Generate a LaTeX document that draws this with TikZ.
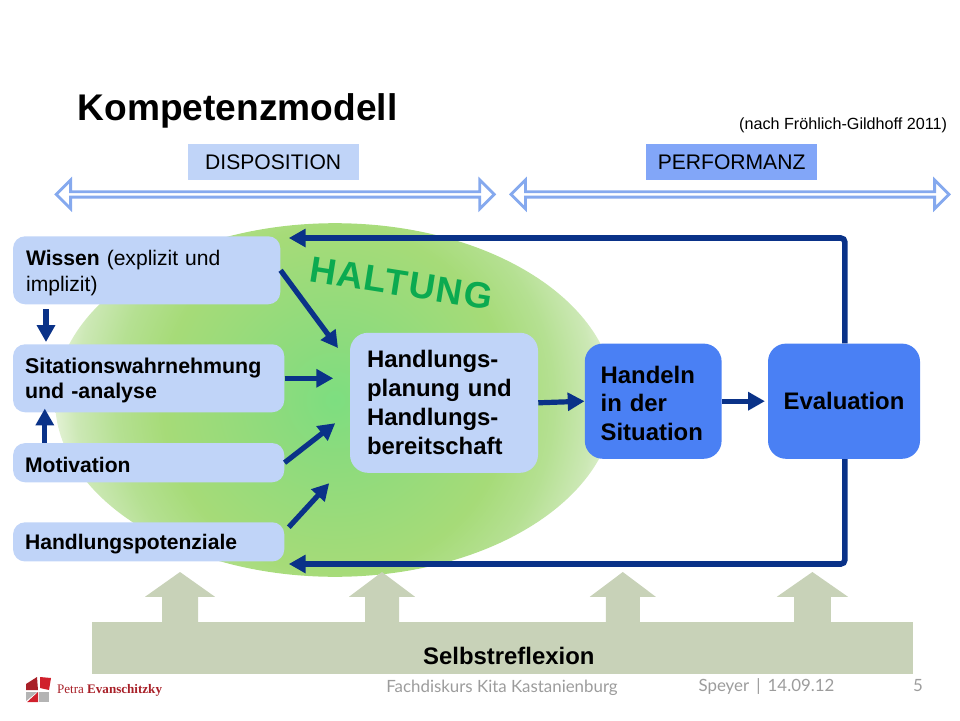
\documentclass[tikz,border=0pt]{standalone}
\usepackage{fontspec}
\setmainfont{Liberation Sans}
\newfontfamily\footfont{Lato}
\newfontfamily\logofont{Liberation Serif}
\usetikzlibrary{arrows.meta,shapes.arrows,positioning,calc}
\definecolor{hellblau}{HTML}{C0D4F8}
\definecolor{mittelblau}{HTML}{4A80F4}
\definecolor{perfblau}{HTML}{82A6F8}
\definecolor{randblau}{HTML}{85A9EE}
\definecolor{dunkelblau}{HTML}{0A3288}
\definecolor{oliv}{HTML}{C8D2B8}
\definecolor{haltgruen}{HTML}{0BAA50}
\definecolor{logorot}{HTML}{D0202C}
\definecolor{logodunkel}{HTML}{A82028}
\definecolor{logograu}{HTML}{B4B4B4}
\definecolor{fussgrau}{HTML}{9C9C9C}
\definecolor{gruenA}{HTML}{7DDE80}
\definecolor{gruenB}{HTML}{8CDB7D}
\definecolor{gruenC}{HTML}{A6DB78}
\definecolor{gruenD}{HTML}{B5E092}
\definecolor{gruenE}{HTML}{CCE8B5}
\definecolor{gruenF}{HTML}{EBF5E0}
\pgfdeclareradialshading{haltungshade}{\pgfpointorigin}{%
  color(0bp)=(gruenA);
  color(5bp)=(gruenB);
  color(15bp)=(gruenC);
  color(19bp)=(gruenD);
  color(22.5bp)=(gruenE);
  color(25bp)=(gruenF);
  color(50bp)=(gruenF)}
\tikzstyle{wissbox}=[fill=hellblau, rounded corners=0.3cm, anchor=north west, align=left, inner sep=0pt, font=\fontsize{15}{18.5}\selectfont, execute at begin node={\rule{0pt}{14.5pt}}]
\tikzstyle{tatbox}=[fill=mittelblau, rounded corners=0.45cm, font=\fontsize{17}{20.6}\selectfont\bfseries, align=left]
\tikzstyle{flow}=[-{Triangle[length=0.42cm,width=0.44cm]}, line width=0.13cm, dunkelblau]
\tikzstyle{rueck}=[flow, rounded corners=0.1cm, line width=0.14cm]
\tikzstyle{doppel}=[double arrow, draw=randblau, line width=0.07cm, fill=white, minimum height=10.95cm, minimum width=0.72cm, double arrow head extend=0.15cm, inner sep=0pt, double arrow head indent=0cm]
\tikzstyle{kopfbox}=[minimum width=4.28cm, minimum height=0.9cm, font=\fontsize{15}{18}\selectfont, inner sep=0pt]
\begin{document}
\begin{tikzpicture}
\useasboundingbox (0,0) rectangle (24,18);

% haltung
\begin{scope}
\clip (8.375,8) ellipse (7cm and 4.42cm);
\shade[shading=haltungshade] (8.375,8) circle (7.2cm);
\end{scope}
\node[rotate=-9, text=haltgruen, font=\fontsize{26}{30}\selectfont\bfseries\addfontfeature{LetterSpace=4}] (haltung) at (10.03,10.92) {HALTUNG};

% kopf
\node[anchor=west, font=\fontsize{26.4}{30}\selectfont\bfseries] (titel) at (1.82,15.23) {Kompetenzmodell};
\node[anchor=east, font=\fontsize{11.5}{13}\selectfont] (quelle) at (23.8,14.87) {(nach Fröhlich-Gildhoff 2011)};
\node[doppel] (disppfeil) at (6.88,13.14) {};
\node[doppel] (perfpfeil) at (18.25,13.14) {};
\node[kopfbox, fill=hellblau] (disp) at (6.83,13.95) {DISPOSITION};
\node[kopfbox, fill=perfblau] (perf) at (18.29,13.95) {PERFORMANZ};

% linke spalte
\node[wissbox, minimum width=6.68cm, minimum height=1.7cm, text width=6.03cm] (wissen) at (0.32,12.1) {\textbf{Wissen} (explizit und\\implizit)};
\node[wissbox, minimum width=6.78cm, minimum height=1.7cm, text width=6.18cm, font=\fontsize{15.2}{18}\selectfont\bfseries] (sit) at (0.32,9.4) {Sitationswahrnehmung\\und -analyse};
\node[wissbox, minimum width=6.78cm, minimum height=0.98cm, text width=6.18cm, font=\fontsize{15}{18}\selectfont\bfseries] (motiv) at (0.32,6.93) {Motivation};
\node[wissbox, minimum width=6.78cm, minimum height=0.98cm, text width=6.18cm, font=\fontsize{15}{18}\selectfont\bfseries] (pot) at (0.32,4.95) {Handlungspotenziale};

% mitte
\node[tatbox, fill=hellblau, minimum width=4.7cm, minimum height=3.5cm, text width=3.85cm] (plan) at (11.1,7.93) {Handlungs-\\planung und\\Handlungs-\\bereitschaft};
\node[tatbox, minimum width=3.42cm, minimum height=2.88cm, text width=2.63cm, execute at begin node={\rule{0pt}{15.5pt}}] (handeln) at (16.33,7.97) {Handeln\\in der\\Situation};
\node[tatbox, minimum width=3.8cm, minimum height=2.88cm, align=center] (eval) at (21.1,7.97) {Evaluation};

% pfeile
\coordinate (wissenziel) at (8.45,9.3);
\coordinate (sitziel) at (8.33,8.55);
\coordinate (motivziel) at (8.38,7.42);
\coordinate (potstart) at (7.22,4.82);
\coordinate (potziel) at (8.23,5.92);
\coordinate (obenrechts) at (21.12,12.05);
\coordinate (untenrechts) at (21.12,3.9);
\coordinate (wissenrueck) at (7.22,12.05);
\coordinate (potrueck) at (7.22,3.9);
\draw[flow] (wissen.east) -- (wissenziel);
\draw[flow] (sit.east) -- (sit.east -| sitziel);
\draw[flow] (motiv.east) -- (motivziel);
\draw[flow] (potstart) -- (potziel);
\draw[flow] (plan.east) -- (handeln.west);
\draw[flow, shorten >=0.07cm] (handeln.east) -- (eval.west);
\draw[flow] ($(wissen.south west)+(0.83,-0.12)$) -- ($(sit.north west)+(0.83,0.05)$);
\draw[flow] ($(motiv.north west)+(0.8,0)$) -- ($(sit.south west)+(0.8,0.1)$);
\draw[rueck] (eval.north -| obenrechts) -- (obenrechts) -- (wissenrueck);
\draw[rueck] (eval.south -| untenrechts) -- (untenrechts) -- (potrueck);

% selbstreflexion
\fill[oliv] (2.3,1.15) rectangle (22.83,2.45);
\foreach \x/\b/\s in {4.5/0.875/0.45, 9.55/0.825/0.425, 15.57/0.825/0.425, 20.31/0.89/0.46}
    \fill[oliv] (\x-\s,2.4) -- (\x-\s,3.08) -- (\x-\b,3.08) -- (\x,3.7) -- (\x+\b,3.08) -- (\x+\s,3.08) -- (\x+\s,2.4) -- cycle;
\node[font=\fontsize{17}{20}\selectfont\bfseries] (selbst) at (12.72,1.6) {Selbstreflexion};

% fuss
\node[text=fussgrau, font=\fontsize{12}{14}\selectfont\footfont] (kurs) at (12.55,0.8) {Fachdiskurs Kita Kastanienburg};
\node[text=fussgrau, font=\fontsize{12}{14}\selectfont\footfont, anchor=west] (ort) at (17.34,0.83) {Speyer \,|\, 14.09.12};
\node[text=fussgrau, font=\fontsize{12}{14}\selectfont\footfont] (seite) at (22.95,0.85) {5};

% logo
\fill[logodunkel] (0.65,0.75) -- (0.65,0.9) -- (0.925,1.075) -- (0.95,0.75) -- cycle;
\fill[logorot] (1,1.075) -- (1.275,1.05) -- (1.225,0.75) -- (1,0.8) -- cycle;
\fill[logograu] (0.65,0.7) -- (0.93,0.7) -- (0.65,0.475) -- cycle;
\fill[logorot] (0.68,0.45) -- (0.95,0.7) -- (0.95,0.45) -- cycle;
\fill[logograu] (0.975,0.7) rectangle (1.225,0.45);
\node[anchor=west, text=logodunkel, font=\fontsize{9.3}{11}\selectfont\logofont, inner sep=0pt] (logo) at (1.42,0.74) {Petra \textbf{Evanschitzky}};

\end{tikzpicture}
\end{document}
